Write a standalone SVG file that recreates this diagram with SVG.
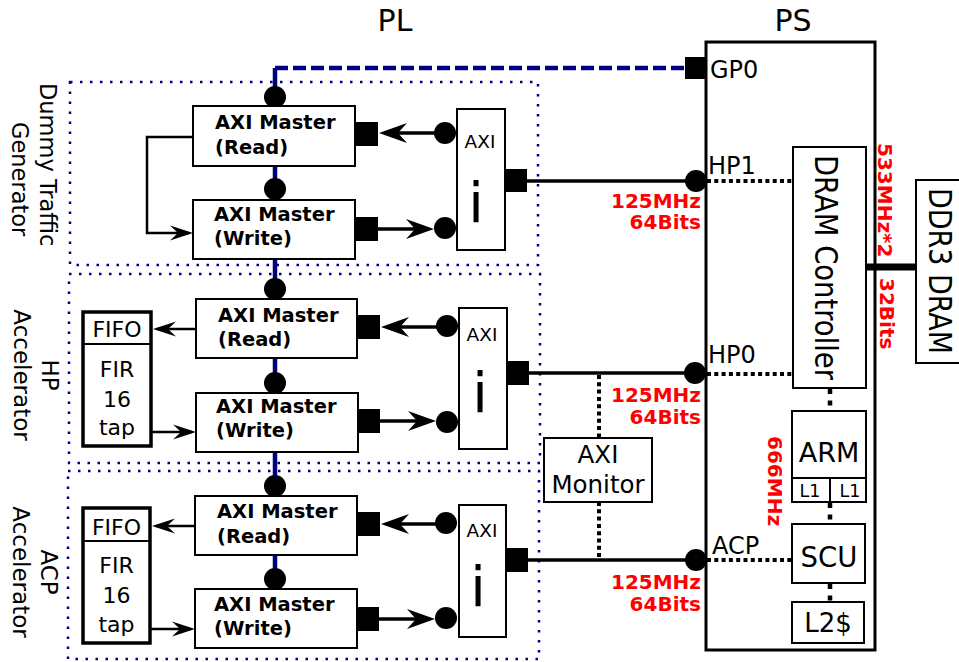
<svg xmlns="http://www.w3.org/2000/svg" width="959" height="662" viewBox="0 0 959 662">
<style>
.box{fill:#fff;stroke:#000;stroke-width:2}
.thick{fill:#fff;stroke:#000;stroke-width:3.5}
.grp{fill:none;stroke:#000080;stroke-width:2.5;stroke-dasharray:2.5 7.5}
.wire{fill:none;stroke:#000;stroke-width:3.5}
.thin{fill:none;stroke:#000;stroke-width:2.5}
.dot{fill:none;stroke:#000;stroke-width:4;stroke-dasharray:4 3.3}
.vdot{fill:none;stroke:#000;stroke-width:4.5;stroke-dasharray:5 6.5}
.blue{fill:none;stroke:#000080;stroke-width:4.5}
text{font-family:'DejaVu Sans','Liberation Sans',sans-serif;fill:#000}
.b{font-weight:bold;font-size:19.5px}
.red{fill:#f00;font-weight:bold;font-size:20px}
.c{text-anchor:middle}
.r{text-anchor:end}
</style>
<defs>
<marker id="aL" markerUnits="userSpaceOnUse" viewBox="-29 -11 30 22" markerWidth="30" markerHeight="22" refX="-5" refY="0" orient="auto">
<path d="M0,0 L-28,-10 L-19,0 L-28,10 Z" fill="#000"/>
</marker>
<marker id="aS" markerUnits="userSpaceOnUse" viewBox="-24 -8 25 16" markerWidth="25" markerHeight="16" refX="-4" refY="0" orient="auto">
<path d="M0,0 L-23,-7.5 L-15,0 L-23,7.5 Z" fill="#000"/>
</marker>
</defs>
<rect width="959" height="662" fill="#fff"/>

<text x="395" y="31" class="c" font-size="30">PL</text>
<text x="793" y="31" class="c" font-size="30">PS</text>

<g id="group-dummy">
<rect class="grp" x="70" y="82" width="468" height="183"/>
<text font-size="22.5" transform="translate(40,83) rotate(90)">Dummy Traffic</text>
<text font-size="22.5" transform="translate(12,122) rotate(90)">Generator</text>
</g>
<g id="group-hp">
<rect class="grp" x="69" y="274" width="471" height="189"/>
<text font-size="23" class="c" transform="translate(42,375) rotate(90)">HP</text>
<text font-size="23" class="c" transform="translate(14,375) rotate(90)">Accelerator</text>
</g>
<g id="group-acp">
<rect class="grp" x="68" y="471" width="471" height="188"/>
<text font-size="23" class="c" transform="translate(41,572) rotate(90)">ACP</text>
<text font-size="23" class="c" transform="translate(13,572) rotate(90)">Accelerator</text>
</g>

<g id="connectors">
<path class="blue" d="M275,68 V570"/>
<path class="blue" d="M275,68 H688" stroke-dasharray="13 5"/>
<!-- group 1 -->
<path class="wire" d="M445,133 H384" marker-end="url(#aL)"/>
<path class="wire" d="M378,229 H429" marker-end="url(#aL)"/>
<path class="thin" d="M193,137 H147 V233 H189" marker-end="url(#aS)"/>
<path class="wire" d="M527,181 H696"/>
<!-- group 2 -->
<path class="wire" d="M447,327 H386" marker-end="url(#aL)"/>
<path class="wire" d="M380,421 H431" marker-end="url(#aL)"/>
<path class="thin" d="M196,329 H157" marker-end="url(#aS)"/>
<path class="thin" d="M151,432 H192" marker-end="url(#aS)"/>
<path class="wire" d="M529,373 H694"/>
<!-- group 3 -->
<path class="wire" d="M446,524 H386" marker-end="url(#aL)"/>
<path class="wire" d="M379,619 H430" marker-end="url(#aL)"/>
<path class="thin" d="M195,526 H156" marker-end="url(#aS)"/>
<path class="thin" d="M150,629 H191" marker-end="url(#aS)"/>
<path class="wire" d="M528,560 H696"/>
<!-- monitor -->
<path class="dot" d="M599,375 V438"/>
<path class="dot" d="M599,502 V558"/>
<!-- PS internal -->
<path class="dot" d="M707,181 H793"/>
<path class="dot" d="M707,374 H793"/>
<path class="dot" d="M707,560 H792"/>
<path class="vdot" d="M830,389 V411"/>
<path class="vdot" d="M830,503 V524"/>
<path class="vdot" d="M830,584 V602"/>
<path d="M866,267 H916" stroke="#000" stroke-width="7"/>
</g>

<g id="dummy-read">
<circle cx="275" cy="97" r="11"/>
<rect x="356" y="122" width="22" height="24"/>
<rect class="box" x="193" y="106" width="162" height="60"/>
<text class="b" x="215" y="129">AXI Master</text>
<text class="b" x="215" y="154">(Read)</text>
</g>
<g id="dummy-write">
<circle cx="275" cy="189" r="11"/>
<rect x="356" y="217" width="22" height="24"/>
<rect class="box" x="193" y="200" width="162" height="59"/>
<text class="b" x="214" y="221">AXI Master</text>
<text class="b" x="214" y="245">(Write)</text>
</g>
<g id="dummy-interconnect">
<circle cx="445" cy="133" r="11"/>
<circle cx="445" cy="228" r="11"/>
<rect x="505" y="169" width="22" height="23"/>
<rect class="box" x="457" y="109" width="48" height="141"/>
<text class="c" x="480" y="148" font-size="18.5">AXI</text>
<text class="c" x="476" y="222" font-size="56">i</text>
</g>

<g id="hp-fifo">
<rect class="thick" x="83" y="312" width="68" height="134"/>
<path d="M83,344 H151" stroke="#000" stroke-width="2"/>
<text class="c" x="117" y="337" font-size="22">FIFO</text>
<text class="c" x="117" y="377" font-size="22">FIR</text>
<text class="c" x="117" y="407" font-size="22">16</text>
<text class="c" x="117" y="435" font-size="22">tap</text>
</g>
<g id="hp-read">
<circle cx="275" cy="289" r="11"/>
<rect x="358" y="315" width="22" height="24"/>
<rect class="box" x="196" y="299" width="161" height="59"/>
<text class="b" x="218" y="322">AXI Master</text>
<text class="b" x="218" y="346">(Read)</text>
</g>
<g id="hp-write">
<circle cx="275" cy="383" r="11"/>
<rect x="358" y="409" width="22" height="24"/>
<rect class="box" x="196" y="393" width="162" height="59"/>
<text class="b" x="216" y="413">AXI Master</text>
<text class="b" x="216" y="437">(Write)</text>
</g>
<g id="hp-interconnect">
<circle cx="447" cy="326" r="11"/>
<circle cx="447" cy="422" r="11"/>
<rect x="507" y="361" width="22" height="24"/>
<rect class="box" x="459" y="308" width="48" height="141"/>
<text class="c" x="482" y="341" font-size="18.5">AXI</text>
<text class="c" x="480" y="412" font-size="56">i</text>
</g>

<g id="acp-fifo">
<rect class="thick" x="83" y="508" width="67" height="135"/>
<path d="M83,541 H150" stroke="#000" stroke-width="2"/>
<text class="c" x="116.5" y="535" font-size="22">FIFO</text>
<text class="c" x="116.5" y="573" font-size="22">FIR</text>
<text class="c" x="116.5" y="603" font-size="22">16</text>
<text class="c" x="116.5" y="632" font-size="22">tap</text>
</g>
<g id="acp-read">
<circle cx="275" cy="486" r="11"/>
<rect x="358" y="512" width="22" height="24"/>
<rect class="box" x="195" y="496" width="162" height="59"/>
<text class="b" x="217" y="518">AXI Master</text>
<text class="b" x="217" y="543">(Read)</text>
</g>
<g id="acp-write">
<circle cx="275" cy="579" r="11"/>
<rect x="357" y="607" width="22" height="24"/>
<rect class="box" x="195" y="589" width="162" height="59"/>
<text class="b" x="214" y="611">AXI Master</text>
<text class="b" x="214" y="635">(Write)</text>
</g>
<g id="acp-interconnect">
<circle cx="446" cy="523" r="11"/>
<circle cx="446" cy="618" r="11"/>
<rect x="506" y="548" width="22" height="24"/>
<rect class="box" x="459" y="505" width="47" height="132"/>
<text class="c" x="482" y="537" font-size="18.5">AXI</text>
<text class="c" x="478" y="606" font-size="56">i</text>
</g>

<g id="axi-monitor">
<rect class="box" x="544" y="438" width="108" height="64"/>
<text class="c" x="598" y="463" font-size="24.5">AXI</text>
<text class="c" x="598" y="493" font-size="24.5">Monitor</text>
</g>

<g id="labels">
<text class="red r" x="701" y="208">125MHz</text>
<text class="red r" x="701" y="229">64Bits</text>
<text class="red r" x="701" y="402">125MHz</text>
<text class="red r" x="701" y="424">64Bits</text>
<text class="red r" x="701" y="589">125MHz</text>
<text class="red r" x="701" y="611">64Bits</text>
<text class="red" transform="translate(878,143) rotate(90)">533MHz*2</text>
<text class="red" transform="translate(880,278) rotate(90)" font-size="19.5">32Bits</text>
<text class="red" transform="translate(768,436) rotate(90)" font-size="21">666MHz</text>
</g>

<g id="ps">
<rect x="706" y="42" width="169" height="608" fill="none" stroke="#000" stroke-width="3"/>
<rect x="685" y="57" width="22" height="22"/>
<circle cx="696" cy="181" r="11"/>
<circle cx="695" cy="373" r="11"/>
<circle cx="696" cy="560" r="11"/>
<text x="710" y="78" font-size="24">GP0</text>
<text x="708" y="174" font-size="24">HP1</text>
<text x="708" y="363" font-size="24">HP0</text>
<text x="712" y="554" font-size="24">ACP</text>
</g>
<g id="dram-controller">
<rect class="box" x="793" y="147" width="73" height="241"/>
<text font-size="32" transform="translate(815,155) rotate(90)" textLength="225" lengthAdjust="spacingAndGlyphs">DRAM Controller</text>
</g>
<g id="arm">
<rect class="box" x="792" y="411" width="74" height="91"/>
<path d="M792,478 H866 M830,478 V502" stroke="#000" stroke-width="2"/>
<text class="c" x="829" y="462" font-size="27">ARM</text>
<text class="c" x="810" y="497" font-size="17.5">L1</text>
<text class="c" x="850" y="497" font-size="17.5">L1</text>
</g>
<g id="scu">
<rect class="box" x="792" y="524" width="73" height="59"/>
<text class="c" x="829" y="567" font-size="27.5">SCU</text>
</g>
<g id="l2">
<rect class="box" x="792" y="602" width="72" height="41"/>
<text class="c" x="828" y="632" font-size="26">L2$</text>
</g>
<g id="ddr3">
<rect class="box" x="916" y="180" width="50" height="183"/>
<text font-size="32" transform="translate(929,188) rotate(90)" textLength="166" lengthAdjust="spacingAndGlyphs">DDR3 DRAM</text>
</g>
</svg>
